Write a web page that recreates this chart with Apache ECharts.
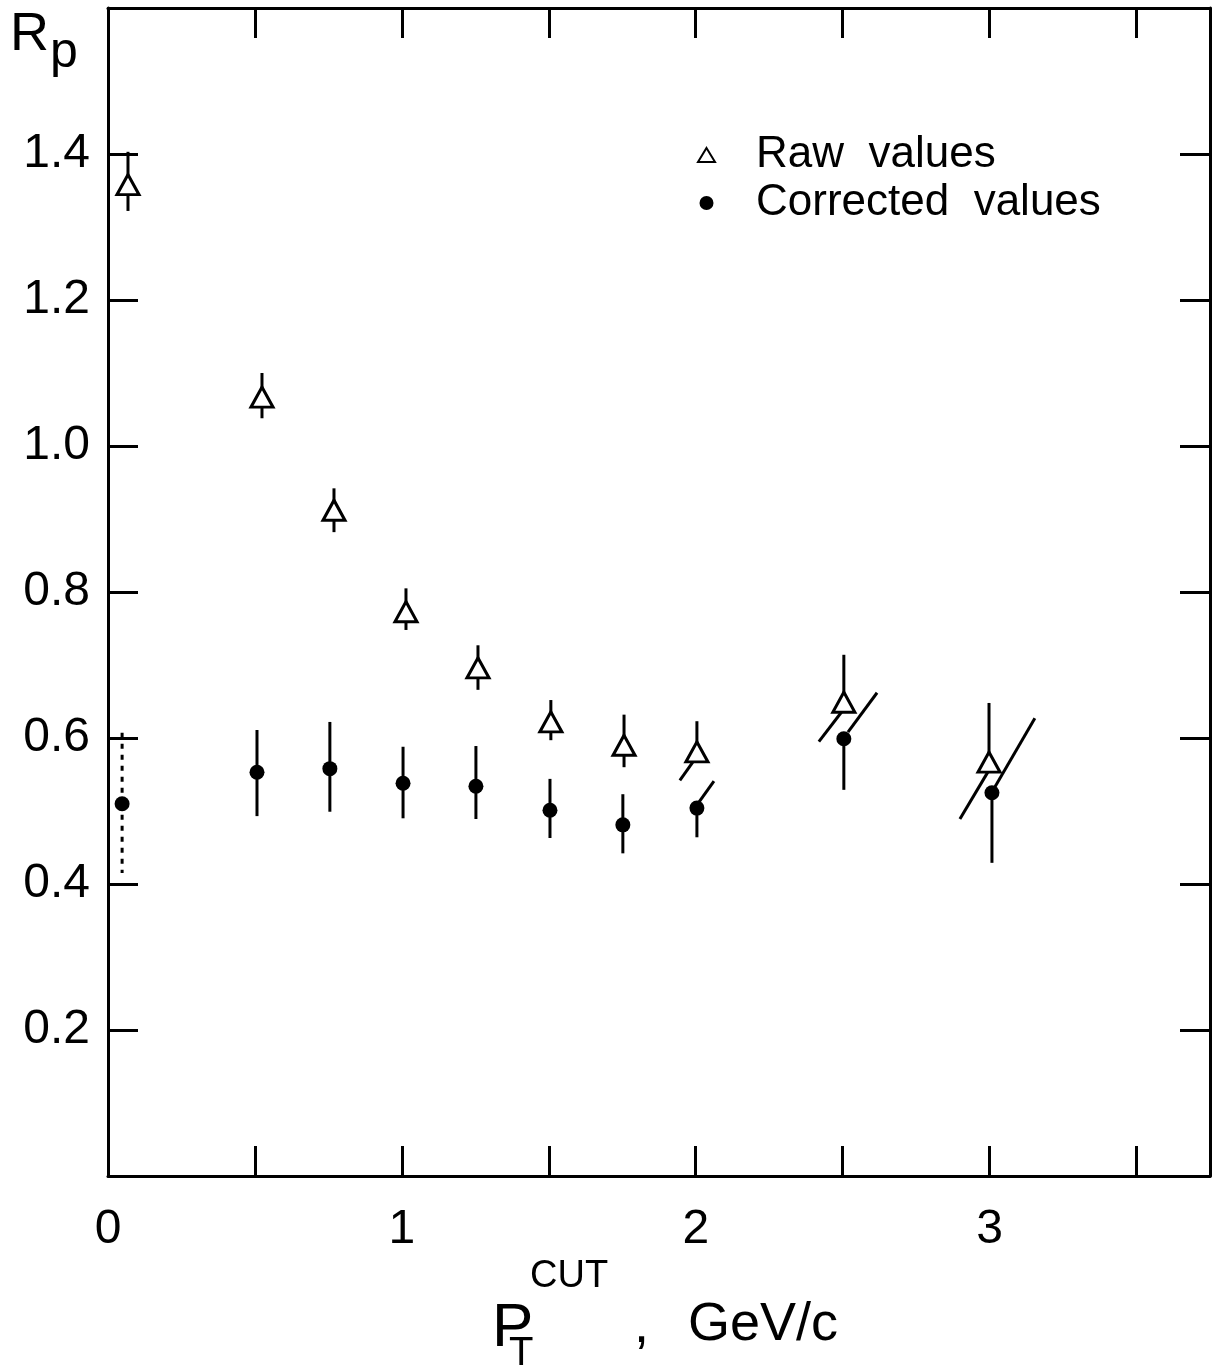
<!DOCTYPE html>
<html>
<head>
<meta charset="utf-8">
<script src="https://cdn.jsdelivr.net/npm/echarts@6/dist/echarts.min.js"></script>
<style>
html, body { margin: 0; padding: 0; background: #fff; }
#chart { width: 1227px; height: 1370px; }
</style>
</head>
<body>
<div id="chart"></div>
<script>
// raw values (open triangles)
var rawX  = [0.068, 0.524, 0.769, 1.014, 1.259, 1.507, 1.756, 2.004, 2.504, 2.998];
var rawY  = [1.358, 1.067, 0.912, 0.773, 0.696, 0.622, 0.590, 0.581, 0.649, 0.567];
var rawHi = [1.403, 1.100, 0.942, 0.805, 0.727, 0.652, 0.632, 0.623, 0.714, 0.648];
var rawLo = [1.322, 1.038, 0.882, 0.748, 0.666, 0.597, 0.560, null, null, null];

// corrected values (filled dots)
var corrX  = [0.048, 0.507, 0.755, 1.004, 1.252, 1.504, 1.752, 2.004, 2.504, 3.008];
var corrY  = [0.510, 0.553, 0.558, 0.538, 0.534, 0.501, 0.481, 0.504, 0.599, 0.525];
var corrHi = [0.611, 0.611, 0.622, 0.588, 0.589, 0.544, 0.523, null, null, null];
var corrLo = [0.415, 0.493, 0.499, 0.490, 0.489, 0.463, 0.442, 0.464, 0.529, 0.429];

// slanted error segments [x1, y1, x2, y2]
var slantRaw  = [[1.990, 0.567, 1.946, 0.542], [2.497, 0.636, 2.419, 0.595], [2.998, 0.556, 2.899, 0.489]];
var slantCorr = [[2.011, 0.512, 2.062, 0.541], [2.518, 0.608, 2.617, 0.662], [3.018, 0.533, 3.154, 0.627]];

var xTicks = { min: 0, max: 3.75, interval: 0.5 };
var yTicks = { min: 0, max: 1.6, interval: 0.2 };

var FONT = 'Liberation Sans';
var DOTTED_INDEX = 0; // first corrected error bar is dotted

function barData(xs, ys, his, los) {
    return xs.map(function (x, i) {
        return [x, ys[i], his[i] == null ? '-' : his[i], los[i] == null ? '-' : los[i]];
    });
}

function makeBarRenderer(dottedIndex) {
    return function (params, api) {
        var x = api.value(0), y = api.value(1), hi = api.value(2), lo = api.value(3);
        var c = api.coord([x, y]);
        var style = { stroke: '#000', lineWidth: 3 };
        if (params.dataIndex === dottedIndex) {
            style.lineDash = [5, 6];
        }
        var children = [];
        if (isFinite(hi)) {
            var p = api.coord([x, hi]);
            children.push({ type: 'line', shape: { x1: c[0], y1: c[1], x2: p[0], y2: p[1] }, style: style });
        }
        if (isFinite(lo)) {
            var q = api.coord([x, lo]);
            children.push({ type: 'line', shape: { x1: c[0], y1: c[1], x2: q[0], y2: q[1] }, style: style });
        }
        return { type: 'group', children: children };
    };
}

function renderSlant(params, api) {
    var a = api.coord([api.value(0), api.value(1)]);
    var b = api.coord([api.value(2), api.value(3)]);
    return {
        type: 'line',
        shape: { x1: a[0], y1: a[1], x2: b[0], y2: b[1] },
        style: { stroke: '#000', lineWidth: 3 }
    };
}

function frameAxis(pos, ticks, showLabel, labelOpts) {
    var ax = {
        type: 'value',
        position: pos,
        min: ticks.min,
        max: ticks.max,
        interval: ticks.interval,
        splitLine: { show: false },
        axisLine: { show: true, onZero: false, lineStyle: { color: '#000', width: 3 } },
        axisTick: { show: true, inside: true, length: 30, lineStyle: { color: '#000', width: 3 } },
        axisLabel: { show: false }
    };
    if (showLabel) {
        ax.axisLabel = labelOpts;
    }
    return ax;
}

var myChart = echarts.init(document.getElementById('chart'), null, {
    renderer: 'canvas',
    useDirtyRect: false
});

var option;

option = {
    animation: false,
    backgroundColor: '#fff',
    grid: {
        left: 108,
        right: 17,
        top: 8,
        bottom: 194
    },
    legend: {
        data: [
            { name: 'Raw  values', icon: 'triangle', itemStyle: { borderWidth: 2 } },
            { name: 'Corrected  values', icon: 'circle' }
        ],
        orient: 'vertical',
        left: 692,
        top: 128,
        itemWidth: 17,
        itemHeight: 14,
        itemGap: 4,
        selectedMode: false,
        textStyle: {
            fontFamily: FONT,
            fontSize: 44,
            color: '#000',
            padding: [0, 0, 0, 36]
        }
    },
    xAxis: [
        frameAxis('bottom', xTicks, true, {
            margin: 30,
            fontFamily: FONT,
            fontSize: 48,
            color: '#000',
            showMaxLabel: false,
            formatter: function (v) {
                return Math.abs(v - Math.round(v)) < 1e-6 ? String(Math.round(v)) : '';
            }
        }),
        frameAxis('top', xTicks, false)
    ],
    yAxis: [
        frameAxis('left', yTicks, true, {
            margin: 18,
            fontFamily: FONT,
            fontSize: 48,
            color: '#000',
            formatter: function (v) {
                return (v < 0.1 || v > 1.5) ? '' : v.toFixed(1);
            }
        }),
        frameAxis('right', yTicks, false)
    ],
    graphic: [
        { type: 'text', left: 10, top: 8, style: { text: 'R', fontFamily: FONT, fontSize: 54, fill: '#000' } },
        { type: 'text', left: 50, top: 28, style: { text: 'p', fontFamily: FONT, fontSize: 50, fill: '#000' } },
        { type: 'text', left: 492, top: 1298, style: { text: 'P', fontFamily: FONT, fontSize: 62, fill: '#000' } },
        { type: 'text', left: 530, top: 1258, style: { text: 'CUT', fontFamily: FONT, fontSize: 38, fill: '#000' } },
        { type: 'text', left: 509, top: 1334, style: { text: 'T', fontFamily: FONT, fontSize: 40, fill: '#000' } },
        { type: 'text', left: 634, top: 1300, style: { text: ',', fontFamily: FONT, fontSize: 54, fill: '#000' } },
        { type: 'text', left: 688, top: 1298, style: { text: 'GeV/c', fontFamily: FONT, fontSize: 54, fill: '#000' } }
    ],
    series: [
        {
            name: 'rawBars',
            type: 'custom',
            renderItem: makeBarRenderer(-1),
            data: barData(rawX, rawY, rawHi, rawLo),
            z: 2
        },
        {
            name: 'corrBars',
            type: 'custom',
            renderItem: makeBarRenderer(DOTTED_INDEX),
            data: barData(corrX, corrY, corrHi, corrLo),
            z: 2
        },
        {
            name: 'rawSlant',
            type: 'custom',
            renderItem: renderSlant,
            data: slantRaw,
            z: 2
        },
        {
            name: 'corrSlant',
            type: 'custom',
            renderItem: renderSlant,
            data: slantCorr,
            z: 2
        },
        {
            name: 'Raw  values',
            type: 'scatter',
            symbol: 'triangle',
            symbolSize: [22, 20],
            itemStyle: { color: '#fff', borderColor: '#000', borderWidth: 3, opacity: 1 },
            data: rawX.map(function (x, i) { return [x, rawY[i]]; }),
            z: 5
        },
        {
            name: 'Corrected  values',
            type: 'scatter',
            symbol: 'circle',
            symbolSize: 15,
            itemStyle: { color: '#000', opacity: 1 },
            data: corrX.map(function (x, i) { return [x, corrY[i]]; }),
            z: 5
        }
    ]
};

if (option && typeof option === 'object') {
    myChart.setOption(option);
}

window.addEventListener('resize', myChart.resize);
</script>
</body>
</html>
